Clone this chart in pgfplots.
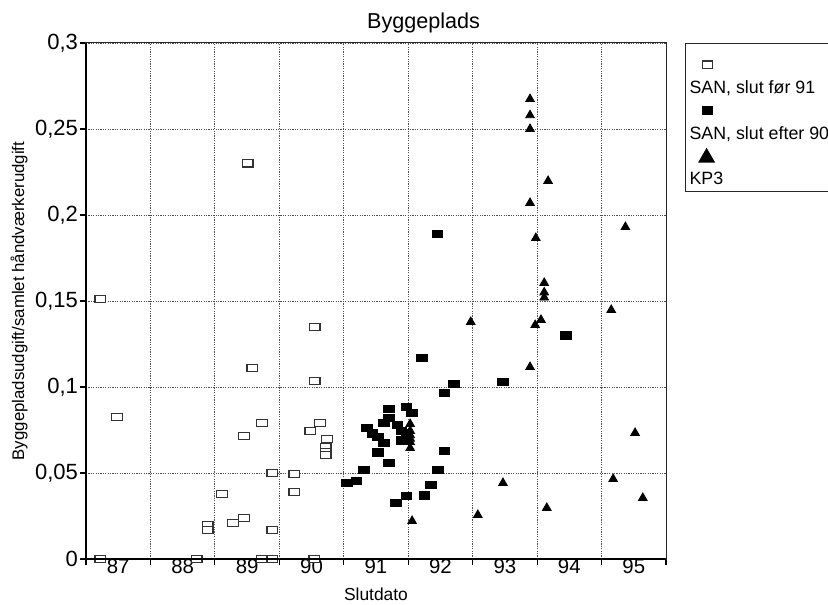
\documentclass[border=0pt]{standalone}
\usepackage{pgfplots}
\pgfplotsset{compat=1.18}
\usepackage{fontspec}
\setmainfont{Liberation Sans}

\newcommand{\legfont}{\fontsize{8.9}{10}\selectfont}
\pgfplotsset{
    legimg/.style={legend image code/.code={\path[draw=none] (-9pt,-4pt) rectangle (5pt,19pt);
        \draw[##1] plot coordinates {(0.5pt,11pt)};}},
    legimgtri/.style={legend image code/.code={\path[draw=none] (-9pt,-4pt) rectangle (5pt,19pt);
        \draw[##1, mark size=4.3pt] plot coordinates {(0pt,10.5pt)};}},
}

% SAN, slut foer 91 (open squares)
\pgfplotstableread{
x y
87.22 0.151
87.22 0.0
87.48 0.0827
88.72 0.0
88.89 0.0198
88.89 0.0169
89.11 0.0378
89.28 0.0209
89.45 0.0238
89.45 0.0715
89.51 0.230
89.58 0.111
89.73 0.079
89.73 0.0
89.89 0.050
89.89 0.0169
89.89 0.0
90.23 0.0494
90.23 0.039
90.48 0.0744
90.54 0.0
90.55 0.1349
90.55 0.1035
90.63 0.079
90.74 0.0698
90.72 0.0651
90.72 0.0622
90.72 0.0605
}\sanfoer

% SAN, slut efter 90 (filled squares)
\pgfplotstableread{
x y
91.36 0.076
91.44 0.073
91.53 0.071
91.62 0.079
91.70 0.082
91.70 0.0872
91.83 0.078
91.62 0.0674
91.89 0.0744
91.98 0.073
91.89 0.069
91.97 0.0884
92.06 0.0849
91.53 0.062
91.70 0.056
91.31 0.052
91.20 0.0455
91.05 0.0442
91.97 0.0366
91.81 0.0326
92.56 0.0628
92.46 0.052
92.35 0.043
92.25 0.037
92.56 0.0965
92.71 0.102
92.45 0.189
92.21 0.117
93.47 0.103
94.45 0.130
}\sanefter

% KP3 (triangles)
\pgfplotstableread{
x y
93.89 0.2674
93.89 0.258
93.89 0.250
94.17 0.2198
93.89 0.207
93.98 0.1866
94.11 0.1605
94.11 0.155
94.11 0.152
95.15 0.1448
92.97 0.1378
94.06 0.139
93.97 0.136
93.89 0.1116
95.52 0.0733
92.03 0.0785
92.03 0.0745
92.03 0.072
92.03 0.070
92.03 0.068
92.03 0.0645
95.18 0.0465
93.47 0.0442
95.64 0.0355
94.15 0.0297
93.08 0.0256
92.06 0.0221
95.37 0.193
}\kpthree

\begin{document}
\begin{tikzpicture}
\begin{axis}[
    at={(0,0)}, anchor=south west,
    scale only axis, width=290pt, height=258pt,
    xmin=87, xmax=96, ymin=0, ymax=0.3,
    clip=false,
    xtick={87,...,96},
    x tick label as interval,
    xticklabels={87,88,89,90,91,92,93,94,95},
    ytick={0,0.05,0.1,0.15,0.2,0.25,0.3},
    yticklabels={0,{0,05},{0,1},{0,15},{0,2},{0,25},{0,3}},
    xtick pos=bottom, ytick pos=left,
    tick align=outside,
    major tick length=3pt,
    tick style={black, line width=0.6pt},
    grid=major,
    major grid style={black!70, line width=0.4pt, dash pattern=on 0.6pt off 0.6pt},
    axis line style={black!85, line width=0.5pt},
    xticklabel style={font=\fontsize{10.2}{12}\selectfont, anchor=north, yshift=6.5pt},
    yticklabel style={font=\fontsize{11}{13}\selectfont, anchor=east, xshift=2.5pt},
    title=Byggeplads,
    title style={at={(axis description cs:0.582,1)}, anchor=base, yshift=1pt,
        font=\fontsize{10.8}{13}\selectfont},
    xlabel=Slutdato,
    xlabel style={at={(axis description cs:0.5,0)}, anchor=base, yshift=-20.5pt,
        font=\fontsize{8.7}{10}\selectfont},
    ylabel={Byggepladsudgift/samlet håndværkerudgift},
    ylabel style={at={(axis description cs:-0.1155,0.5)}, anchor=center,
        font=\fontsize{8.4}{10}\selectfont},
    legend style={at={(axis description cs:1,1)}, anchor=north west,
        xshift=9.5pt, yshift=0pt,
        draw=black!85, line width=0.6pt,
        inner xsep=1.5pt, inner ysep=2.5pt,
        column sep=-14pt, row sep=0pt,
        nodes={inner sep=0.5pt, text depth=0pt, font=\legfont},
        font=\legfont},
    legend cell align=left,
    after end axis/.code={
        \draw[black, line width=1.1pt] (rel axis cs:0,1) -- (rel axis cs:0,0) -- (rel axis cs:1,0);
    },
]
\addplot[only marks, mark=square*, mark size=1.8pt,
    mark options={xscale=1.45, draw=black!80, fill=white, line width=0.6pt},
    legimg]
    table[x=x, y=y] {\sanfoer};
\addlegendentry{\legfont SAN, slut før 91}

\addplot[only marks, mark=square*, mark size=1.8pt,
    mark options={xscale=1.45, draw=black, fill=black},
    legimg]
    table[x=x, y=y] {\sanefter};
\addlegendentry{\legfont SAN, slut efter 90}

\addplot[only marks, mark=triangle*, mark size=2.5pt,
    mark options={draw=black, fill=black},
    legimgtri]
    table[x=x, y=y] {\kpthree};
\addlegendentry{\legfont KP3}
\end{axis}
\pgfresetboundingbox
\path (-43pt,-22.5pt) rectangle (371pt,279.5pt);
\end{tikzpicture}
\end{document}
